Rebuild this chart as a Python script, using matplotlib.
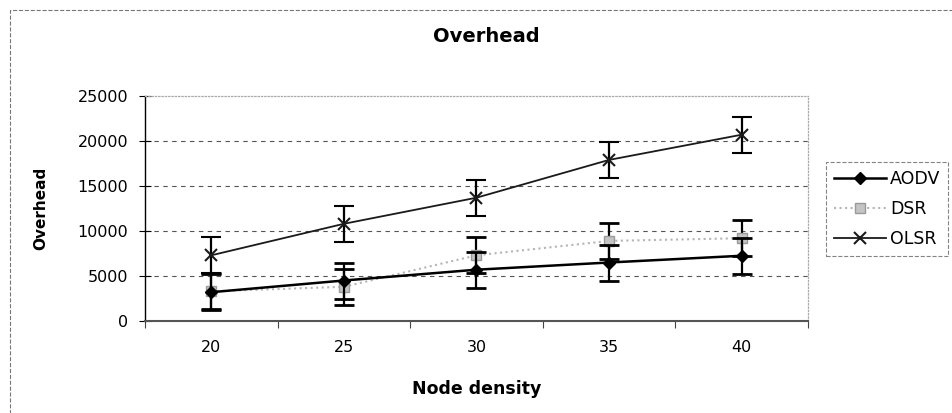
import matplotlib
matplotlib.use("Agg")
import matplotlib.pyplot as plt
from matplotlib.patches import Rectangle

# data
nodes = [20, 25, 30, 35, 40]
aodv = [3200, 4500, 5700, 6500, 7250]
dsr = [3300, 3800, 7300, 8900, 9200]
olsr = [7300, 10800, 13700, 17900, 20700]
aodv_err = [2000, 2000, 2000, 2000, 2000]
dsr_err = [2000, 2000, 2000, 2000, 2000]
olsr_err = [2000, 2000, 2000, 2000, 2000]
y_ticks = [0, 5000, 10000, 15000, 20000, 25000]

plt.rcParams['font.family'] = ['DejaVu Sans']

W, H = 953, 413
fig = plt.figure(figsize=(W / 100, H / 100), dpi=100)
ax = fig.add_axes([145 / W, 1 - 321 / H, 663 / W, 225 / H])

# outer chart border (dashed, cut off on the right and bottom)
fig.patches.append(Rectangle((10 / W, -0.5), 2, 0.5 + 1 - 10 / H, transform=fig.transFigure,
                             fill=False, edgecolor='#777777', linestyle='--', linewidth=0.8))

ax.errorbar(nodes, aodv, yerr=aodv_err, color='black', lw=1.8, marker='D', markersize=6.5,
            ecolor='black', elinewidth=1.6, capsize=7, capthick=2, label='AODV', zorder=4)
ax.errorbar(nodes, dsr, yerr=dsr_err, color='#b5b5b5', lw=1.5, linestyle=':', marker='s',
            markersize=7, markerfacecolor='#c4c4c4', markeredgecolor='#9a9a9a',
            ecolor='black', elinewidth=1.6, capsize=7, capthick=2, label='DSR', zorder=3)
ax.errorbar(nodes, olsr, yerr=olsr_err, color='#1a1a1a', lw=1.3, marker='x', markersize=9,
            markeredgewidth=1.5, ecolor='black', elinewidth=1.6, capsize=7, capthick=2,
            label='OLSR', zorder=4)

ax.set_xlim(17.5, 42.5)
ax.set_ylim(0, 25000)

# category axis: ticks between categories, labels at centres
ax.set_xticks([17.5, 22.5, 27.5, 32.5, 37.5, 42.5])
ax.set_xticklabels([])
ax.set_xticks(nodes, minor=True)
ax.set_xticklabels([str(n) for n in nodes], minor=True)
ax.tick_params(axis='x', which='major', direction='out', length=5, color='#444444')
ax.tick_params(axis='x', which='minor', length=0, pad=14, labelsize=11.5)

ax.set_yticks(y_ticks)
ax.set_yticklabels([str(v) for v in y_ticks])
ax.tick_params(axis='y', direction='inout', length=8, pad=8, labelsize=11.5)

ax.yaxis.grid(True, color='#555555', linestyle=(0, (4, 4)), linewidth=0.8)
ax.get_ygridlines()[-1].set_visible(False)
ax.set_axisbelow(True)

ax.spines['left'].set_color('black')
ax.spines['left'].set_linewidth(1.0)
ax.spines['bottom'].set_color('#555555')
ax.spines['bottom'].set_linewidth(1.5)
for side in ['top', 'right']:
    ax.spines[side].set_color('#aaaaaa')
    ax.spines[side].set_linestyle(':')
    ax.spines[side].set_linewidth(0.9)

fig.text(486 / W, 1 - 36 / H, 'Overhead', ha='center', va='center', fontsize=14, fontweight='bold')
ax.set_xlabel('Node density', fontsize=12.5, fontweight='bold')
ax.xaxis.set_label_coords(0.5, -(380 - 321) / 225)
ax.set_ylabel('Overhead', fontsize=11, fontweight='bold')
ax.yaxis.set_label_coords(-(145 - 48) / 663, 0.5)

# legend shows only line + marker (no error bars)
handles, labels = ax.get_legend_handles_labels()
handles = [h[0] for h in handles]
leg = fig.legend(handles, labels, loc='upper left', bbox_to_anchor=(826 / W, 1 - 162 / H),
                 fontsize=12.5, frameon=True, fancybox=False, handlelength=3.0,
                 handletextpad=0.25, borderpad=0.45, labelspacing=0.7, borderaxespad=0)
leg.get_frame().set_edgecolor('#666666')
leg.get_frame().set_linestyle('--')
leg.get_frame().set_linewidth(0.8)

fig.savefig('out.png', dpi=100)
